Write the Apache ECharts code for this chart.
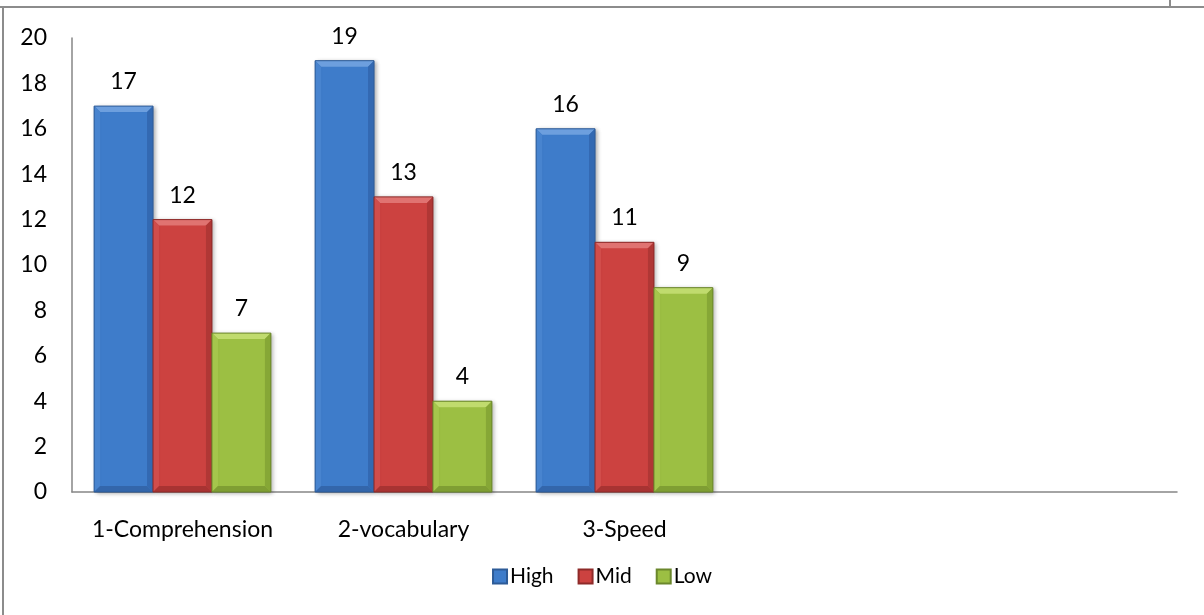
<!DOCTYPE html>
<html>
<head>
<meta charset="utf-8">
<script src="https://cdn.jsdelivr.net/npm/echarts@6/dist/echarts.min.js"></script>
<style>
  html, body { margin: 0; padding: 0; background: #fff; }
  #chart { width: 1204px; height: 615px; }
</style>
</head>
<body>
<div id="chart"></div>
<script>
// Skill groups on the x axis (two trailing slots are left empty)
const categories = ['1-Comprehension', '2-vocabulary', '3-Speed', '', ''];
const highValues = [17, 19, 16, null, null];
const midValues = [12, 13, 11, null, null];
const lowValues = [7, 4, 9, null, null];
const yTicks = [0, 2, 4, 6, 8, 10, 12, 14, 16, 18, 20];

const FONT = 'Lato, "Open Sans", sans-serif';
const CAT_GAP = 0.2;   // share of each category band left empty
const BEVEL = 6;       // bevel depth in px

// face, top edge, left edge, right edge, bottom edge, outline
const palettes = {
  High: ['#3e7cca', '#6d9fde', '#4884cf', '#3369b2', '#3366ab', '#2d5b97'],
  Mid:  ['#cc4240', '#e07371', '#d14d4b', '#b03735', '#a83332', '#8e2a29'],
  Low:  ['#9cbf43', '#c0db6e', '#a5c64c', '#86a736', '#7f9e33', '#6b872c']
};

function barSeries(name, data) {
  const p = palettes[name];
  return {
    name: name,
    type: 'bar',
    data: data,
    barGap: '0%',
    barCategoryGap: (CAT_GAP * 100) + '%',
    z: 2,
    itemStyle: {
      color: p[0],
      borderColor: p[5],
      borderWidth: 1,
      shadowColor: 'rgba(0,0,0,0.3)',
      shadowBlur: 4,
      shadowOffsetX: 2,
      shadowOffsetY: 1
    },
    label: {
      show: true,
      position: 'top',
      distance: 13,
      color: '#000',
      fontFamily: FONT,
      fontSize: 23
    }
  };
}

// Bevelled edges drawn on top of each bar, using the same band layout as the bars
function bevelSeries(name, data, index, count) {
  const p = palettes[name];
  return {
    name: name,
    type: 'custom',
    data: data.map((v, i) => [i, v]),
    z: 3,
    silent: true,
    legendHoverLink: false,
    renderItem: function (params, api) {
      const v = api.value(1);
      if (v == null || isNaN(v)) return null;
      const band = api.size([1, 0])[0];
      const bw = band * (1 - CAT_GAP) / count;
      const top = api.coord([api.value(0), v]);
      const base = api.coord([api.value(0), 0]);
      const x0 = top[0] - bw * count / 2 + index * bw;
      const x1 = x0 + bw;
      const y0 = top[1];
      const y1 = base[1];
      const b = Math.min(BEVEL, (y1 - y0) / 2);
      const poly = (pts, fill) => ({ type: 'polygon', shape: { points: pts }, style: { fill: fill } });
      return {
        type: 'group',
        children: [
          poly([[x0, y0], [x1, y0], [x1 - b, y0 + b], [x0 + b, y0 + b]], p[1]),
          poly([[x0, y0], [x0 + b, y0 + b], [x0 + b, y1 - b], [x0, y1]], p[2]),
          poly([[x1, y0], [x1 - b, y0 + b], [x1 - b, y1 - b], [x1, y1]], p[3]),
          poly([[x0, y1], [x0 + b, y1 - b], [x1 - b, y1 - b], [x1, y1]], p[4]),
          { type: 'rect', shape: { x: x0, y: y0, width: bw, height: y1 - y0 },
            style: { fill: 'none', stroke: p[5], lineWidth: 1 } }
        ]
      };
    }
  };
}

const chart = echarts.init(document.getElementById('chart'), null, { renderer: 'canvas' });

chart.setOption({
  backgroundColor: '#fff',
  animation: false,
  grid: { left: 72, right: 27, top: 38, bottom: 123, containLabel: false },
  legend: {
    bottom: 23,
    left: 'center',
    itemWidth: 14,
    itemHeight: 14,
    itemGap: 24,
    icon: 'rect',
    textStyle: { fontFamily: FONT, fontSize: 21, color: '#000', padding: [0, 0, 0, -2] },
    data: ['High', 'Mid', 'Low']
  },
  xAxis: {
    type: 'category',
    data: categories,
    axisLine: { lineStyle: { color: '#868686', width: 1.5 } },
    axisTick: { show: false },
    axisLabel: { interval: 0, color: '#000', fontFamily: FONT, fontSize: 23, margin: 26 }
  },
  yAxis: {
    type: 'value',
    min: yTicks[0],
    max: yTicks[yTicks.length - 1],
    interval: yTicks[1] - yTicks[0],
    axisLine: { show: true, lineStyle: { color: '#868686', width: 1.5 } },
    axisTick: { show: false },
    splitLine: { show: false },
    axisLabel: { color: '#000', fontFamily: FONT, fontSize: 23, margin: 25 }
  },
  series: [
    barSeries('High', highValues),
    barSeries('Mid', midValues),
    barSeries('Low', lowValues),
    bevelSeries('High', highValues, 0, 3),
    bevelSeries('Mid', midValues, 1, 3),
    bevelSeries('Low', lowValues, 2, 3)
  ],
  graphic: [
    // outer frame lines
    { type: 'line', shape: { x1: 0, y1: 7, x2: 1204, y2: 7 }, style: { stroke: '#8c8c8c', lineWidth: 2 } },
    { type: 'line', shape: { x1: 1170, y1: 0, x2: 1170, y2: 7 }, style: { stroke: '#8c8c8c', lineWidth: 2 } },
    { type: 'line', shape: { x1: 3, y1: 7, x2: 3, y2: 615 }, style: { stroke: '#8c8c8c', lineWidth: 2 } }
  ]
});
</script>
</body>
</html>
